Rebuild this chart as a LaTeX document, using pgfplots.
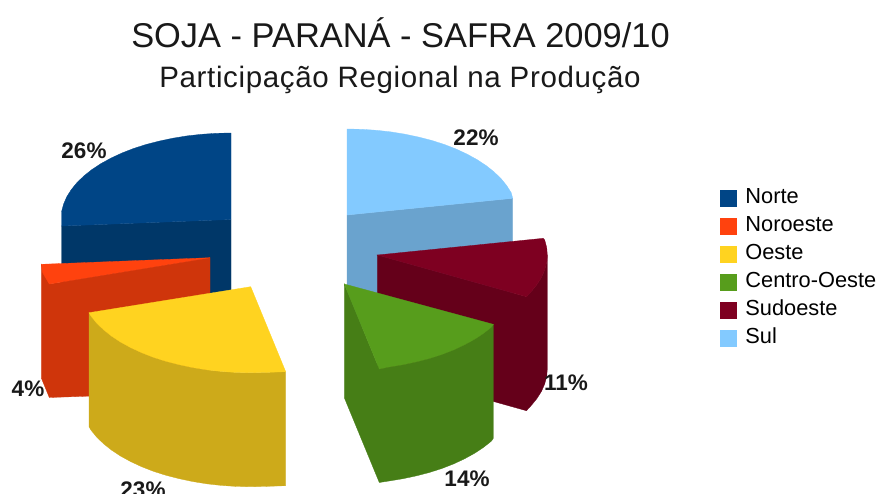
\documentclass[border=0pt]{standalone}
\usepackage{pgfplots}
\pgfplotsset{compat=1.18}
\usepackage{fontspec}
\setmainfont{Liberation Sans}
\newfontfamily\subf[LetterSpace=2.2]{Liberation Sans}
\definecolor{norte}{HTML}{004586}\definecolor{norteS}{HTML}{003768}
\definecolor{noro}{HTML}{FF420E}\definecolor{noroS}{HTML}{CF350B}
\definecolor{oeste}{HTML}{FFD320}\definecolor{oesteS}{HTML}{CDAA1A}
\definecolor{centro}{HTML}{579D1C}\definecolor{centroS}{HTML}{467E16}
\definecolor{sudo}{HTML}{7E0021}\definecolor{sudoS}{HTML}{65001A}
\definecolor{sul}{HTML}{83CAFF}\definecolor{sulS}{HTML}{6AA3CE}
\tikzset{pct/.style={font=\fontsize{22.5}{22.5}\selectfont\bfseries,text=black!90,inner sep=0pt}}
\pgfplotsset{
 face/.style={fill=#1,draw=#1,line width=0.3pt,forget plot},
 leg/.style={legend image code/.code={\fill[#1] (0pt,-8pt) rectangle (16pt,8pt);\path (25pt,0pt);}}
}
\begin{document}
\begin{tikzpicture}
\useasboundingbox (0,0) rectangle (877pt,493pt);
\clip (0,0) rectangle (877pt,493pt);
\begin{axis}[at={(0,0)},anchor=south west,scale only axis,width=877pt,height=493pt,
  xmin=0,xmax=877,ymin=0,ymax=493,y dir=reverse,hide axis,clip=false,
  legend cell align=left,
  legend style={draw=none,fill=none,at={(axis cs:720,189)},anchor=north west,
    font=\fontsize{21.8}{21.8}\selectfont,inner sep=0pt,outer sep=0pt,
    row sep=9.5pt,
    nodes={inner sep=0pt,text height=14.5pt,text depth=4pt}}]
\addlegendimage{leg=norte}\addlegendentry{Norte}
\addlegendimage{leg=noro}\addlegendentry{Noroeste}
\addlegendimage{leg=oeste}\addlegendentry{Oeste}
\addlegendimage{leg=centro}\addlegendentry{Centro-Oeste}
\addlegendimage{leg=sudo}\addlegendentry{Sudoeste}
\addlegendimage{leg=sul}\addlegendentry{Sul}
% Sul
\addplot[face=sulS] coordinates {(347,215)(512.7,198.3)(512.7,312)(347,329)} -- cycle;
\addplot[face=sul] coordinates {(347,129)(361.8,129.3)(376.5,130.3)(391,131.9)(405.1,134.2)(418.8,137.1)(432,140.5)(444.5,144.5)(456.3,149.1)(467.2,154.2)(477.2,159.7)(486.3,165.7)(494.2,172)(501.1,178.7)(506.7,185.6)(511.2,192.7)(512.7,198.3)(347,215)} -- cycle;
% Sudoeste
\addplot[face=sudoS] coordinates {(377.3,255)(526.4,296.7)(531.4,291.3)(537,284.4)(541.5,277.3)(544.7,269.9)(546.7,262.5)(547.3,255)(547.3,369)(546.7,376.5)(544.7,383.9)(541.5,391.3)(537,398.4)(531.4,405.3)(526.4,410.7)(377.3,369)} -- cycle;
\addplot[face=sudo] coordinates {(377.3,255)(543.3,238.3)(544.7,240)(546.7,247.5)(547.3,255)(546.7,262.5)(544.7,269.9)(541.5,277.3)(537,284.4)(531.4,291.3)(526.4,296.7)} -- cycle;
% Norte
\addplot[face=norteS] coordinates {(61.5,226)(231,219.5)(231,333)(61.5,340)} -- cycle;
\addplot[face=norte] coordinates {(231,133)(216.2,133.3)(201.5,134.3)(187,135.9)(172.9,138.2)(159.2,141.1)(146,144.5)(133.5,148.5)(121.7,153.1)(110.8,158.2)(100.8,163.7)(91.7,169.7)(83.8,176)(76.9,182.7)(71.3,189.6)(66.8,196.7)(63.6,204.1)(61.6,211.5)(61.5,219)(61.5,226)(231,219.5)} -- cycle;
% Noroeste
\addplot[face=noroS] coordinates {(41.3,264.3)(49.3,284)(210,257.7)(210,392)(49.3,397.5)(41.3,378)} -- cycle;
\addplot[face=noro] coordinates {(41.3,264.3)(210,257.7)(49.3,284)(42.6,272.6)} -- cycle;
% Oeste
\addplot[face=oesteS] coordinates {(89,312.7)(91,316.1)(96.6,323)(103.5,329.7)(111.4,336)(120.5,342)(130.5,347.5)(141.4,352.6)(153.2,357.2)(165.7,361.2)(178.9,364.6)(192.6,367.5)(206.7,369.8)(221.2,371.4)(235.9,372.4)(250.7,372.7)(265.5,372.4)(285.7,371.7)(285.7,485.7)(265.5,486.4)(250.7,486.7)(235.9,486.4)(221.2,485.4)(206.7,483.8)(192.6,481.5)(178.9,478.6)(165.7,475.2)(153.2,471.2)(141.4,466.6)(130.5,461.5)(120.5,456)(111.4,450)(103.5,443.7)(96.6,437)(91,430.1)(89,426.7)} -- cycle;
\addplot[face=oeste] coordinates {(89,312.7)(250.7,286.7)(285.7,371.7)(265.5,372.4)(250.7,372.7)(235.9,372.4)(221.2,371.4)(206.7,369.8)(192.6,367.5)(178.9,364.6)(165.7,361.2)(153.2,357.2)(141.4,352.6)(130.5,347.5)(120.5,342)(111.4,336)(103.5,329.7)(96.6,323)(91,316.1)} -- cycle;
% Centro-Oeste
\addplot[face=centroS] coordinates {(344.3,284)(379.3,369)(388.3,367.1)(402.4,364.8)(416.1,361.9)(429.3,358.5)(441.8,354.5)(453.6,349.9)(464.5,344.8)(474.5,339.3)(483.6,333.3)(491.5,327)(493.3,324.3)(493.3,438.3)(491.5,441)(483.6,447.3)(474.5,453.3)(464.5,458.8)(453.6,463.9)(441.8,468.5)(429.3,472.5)(416.1,475.9)(402.4,478.8)(388.3,481.1)(379.3,482.5)(344.3,397.7)} -- cycle;
\addplot[face=centro] coordinates {(344.3,284)(493.3,324.3)(491.5,327)(483.6,333.3)(474.5,339.3)(464.5,344.8)(453.6,349.9)(441.8,354.5)(429.3,358.5)(416.1,361.9)(402.4,364.8)(388.3,367.1)(379.3,369)} -- cycle;
% labels
\node[pct] at (axis cs:84,151) {26\%};
\node[pct] at (axis cs:476,138) {22\%};
\node[pct] at (axis cs:28,389) {4\%};
\node[pct] at (axis cs:143,490) {23\%};
\node[pct] at (axis cs:467,479) {14\%};
\node[pct] at (axis cs:566,383) {11\%};
\node[font=\fontsize{34.4}{34.4}\selectfont,text=black!90,inner sep=0pt] at (axis cs:400.5,33) {SOJA - PARANÁ - SAFRA 2009/10};
\node[font=\subf\fontsize{29.5}{29.5}\selectfont,text=black!90,inner sep=0pt] at (axis cs:400,80) {Participação Regional na Produção};
\end{axis}
\end{tikzpicture}
\end{document}
